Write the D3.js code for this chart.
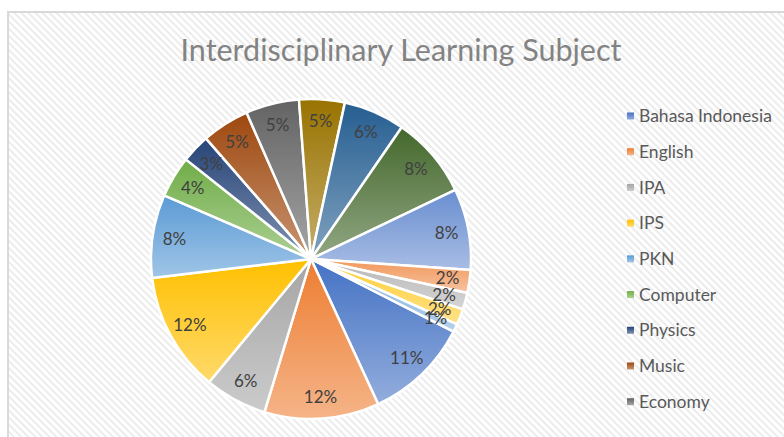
<!DOCTYPE html>
<html>
<head>
<meta charset="utf-8">
<script src="https://cdn.jsdelivr.net/npm/d3@7"></script>
<style>
  body { margin: 0; background: #fff; }
  text { font-family: Lato, "Open Sans", sans-serif; }
</style>
</head>
<body>
<div id="container"></div>
<script>
// subjects, in slice order (only the first rows fit in the legend)
let subjects = ["Bahasa Indonesia", "English", "IPA", "IPS", "PKN", "Computer", "Physics", "Music", "Economy",
  "Art", "Mathematics", "Religion", "Sports", "Geography", "History", "Biology", "Chemistry"];
// share of each subject
let shares = [10.6, 11.6, 6.3, 12.1, 8.4, 4.2, 2.9, 4.8, 5.4, 4.6, 6.2, 8.3, 8.2, 2.3, 1.7, 1.6, 0.8];
let titleText = "Interdisciplinary Learning Subject";

// office palette
let palette = ["#4472C4", "#ED7D31", "#A5A5A5", "#FFC000", "#5B9BD5", "#70AD47",
  "#264478", "#9E480E", "#636363", "#997300", "#255E91", "#43682B",
  "#698ED0", "#F1975A", "#B7B7B7", "#FFCD33", "#7CAFDD"];

let w = 784;
let h = 437;
let cx = 311;
let cy = 259;
let r = 160;

let viz = d3.select("#container")
  .append("svg")
    .attr("width", w)
    .attr("height", h)
;

let defs = viz.append("defs");

// diagonal hatch of the chart background
let pat = defs.append("pattern")
  .attr("id", "hatch")
  .attr("patternUnits", "userSpaceOnUse")
  .attr("width", 5)
  .attr("height", 5)
  .attr("patternTransform", "rotate(-45)");
pat.append("rect").attr("width", 5).attr("height", 5).attr("fill", "#ffffff");
pat.append("rect").attr("width", 2).attr("height", 5).attr("fill", "#ececec");

viz.append("rect")
  .attr("x", 8)
  .attr("y", 12)
  .attr("width", w)
  .attr("height", h)
  .attr("fill", "url(#hatch)")
  .attr("stroke", "#d9d9d9")
  .attr("stroke-width", 2);

// title
viz.append("text")
  .attr("x", 401)
  .attr("y", 61)
  .attr("text-anchor", "middle")
  .attr("font-size", 30.5)
  .attr("fill", "#838383")
  .text(titleText);

// one vertical gradient per slice
let color = d3.scaleOrdinal().domain(subjects).range(palette);
subjects.forEach(function(s, i){
  let g = defs.append("linearGradient")
    .attr("id", "grad" + i)
    .attr("x1", 0).attr("y1", 0)
    .attr("x2", 0).attr("y2", 1);
  g.append("stop").attr("offset", "0%").attr("stop-color", color(s));
  g.append("stop").attr("offset", "100%").attr("stop-color", d3.interpolateRgb(color(s), "#ffffff")(0.42));
});

let data = subjects.map(function(s, i){
  return {subject: s, value: shares[i], index: i};
});
let total = d3.sum(shares);

let startA = 117 * Math.PI / 180;
let pie = d3.pie()
  .sort(null)
  .value(function(d){ return d.value; })
  .startAngle(startA)
  .endAngle(startA + 2 * Math.PI);

let arc = d3.arc().innerRadius(0).outerRadius(r);
let labelArc = d3.arc().innerRadius(138).outerRadius(138);

let pieGroup = viz.append("g")
  .attr("transform", "translate(" + cx + "," + cy + ")");

let arcs = pie(data);

pieGroup.selectAll(".slice").data(arcs).enter()
  .append("path")
    .attr("class", "slice")
    .attr("d", arc)
    .attr("fill", function(d){ return "url(#grad" + d.data.index + ")"; })
    .attr("stroke", "#ffffff")
    .attr("stroke-width", 2.5)
    .attr("stroke-linejoin", "round")
;

pieGroup.selectAll(".lbl").data(arcs).enter()
  .append("text")
    .attr("class", "lbl")
    .attr("transform", function(d){ return "translate(" + labelArc.centroid(d) + ")"; })
    .attr("text-anchor", "middle")
    .attr("dy", "0.35em")
    .attr("font-size", 17)
    .attr("fill", "#404040")
    .text(function(d){ return Math.round(d.data.value / total * 100) + "%"; })
;

// legend, only rows that fit inside the chart are shown
let rowY = d3.scaleLinear().domain([0, 8]).range([116, 401.7]);
let legendData = data.filter(function(d){ return rowY(d.index) < h - 20; });

let legend = viz.append("g").attr("class", "legend");
let rows = legend.selectAll(".row").data(legendData).enter()
  .append("g")
    .attr("class", "row")
    .attr("transform", function(d){ return "translate(627," + rowY(d.index) + ")"; })
;
rows.append("rect")
  .attr("x", 0)
  .attr("y", -3.5)
  .attr("width", 7)
  .attr("height", 7)
  .attr("fill", function(d){ return "url(#grad" + d.index + ")"; });
rows.append("text")
  .attr("x", 12)
  .attr("dy", "0.35em")
  .attr("font-size", 17.5)
  .attr("fill", "#595959")
  .text(function(d){ return d.subject; });
</script>
</body>
</html>
